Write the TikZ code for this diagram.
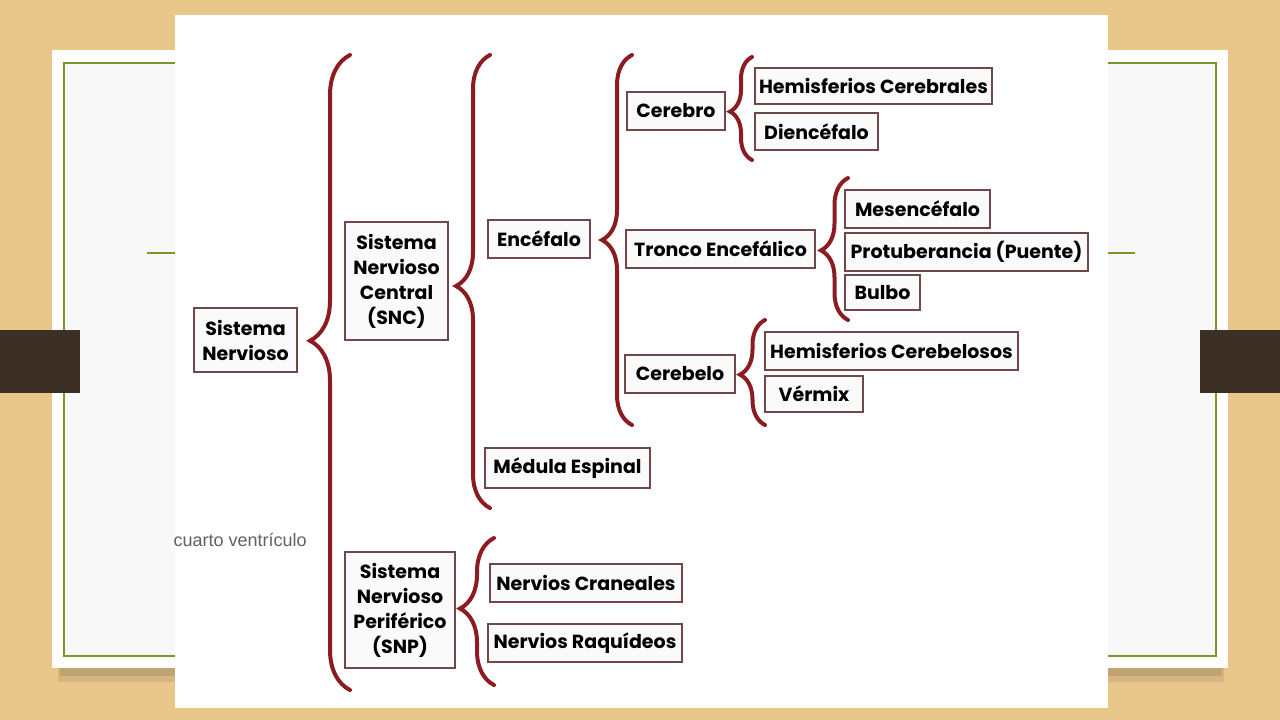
\documentclass[tikz,border=0pt]{standalone}
\usepackage{fontspec}
\newfontfamily\boxfont{Poppins}
\newfontfamily\slidefont{Liberation Sans}
\usetikzlibrary{decorations.pathreplacing}
\definecolor{wood}{RGB}{233,198,138}
\definecolor{card}{RGB}{248,248,248}
\definecolor{olive}{RGB}{122,150,42}
\definecolor{bar}{RGB}{60,48,38}
\definecolor{bracered}{RGB}{140,28,34}
\definecolor{boxline}{RGB}{112,72,72}
\begin{document}
\begin{tikzpicture}[x=1pt,y=-1pt,
  box/.style={draw=boxline,fill=gray!4,line width=1.3pt,align=center,inner sep=3pt,
    font=\boxfont\bfseries\fontsize{19}{25}\selectfont},
  brc/.style 2 args={draw=bracered,line width=4pt,line cap=round,decorate,
    decoration={brace,amplitude=#1,aspect=#2}}]
\useasboundingbox (0,0) rectangle (1280,720);
% slide behind the picture
\fill[wood] (0,0) rectangle (1280,720);
\fill[black,opacity=.08] (58,664) rectangle (1224,682);
\fill[black,opacity=.10] (60,664) rectangle (1222,676);
\fill[white] (52,50) rectangle (1228,668);
\fill[card] (64,63) rectangle (1216,656);
\draw[olive,line width=1.5pt] (64,63) rectangle (1216,656);
\draw[olive,line width=1.5pt] (147,253) -- (175,253) (1108,253) -- (1135,253);
\fill[bar] (0,330) rectangle (80,393);
\fill[bar] (1200,330) rectangle (1280,393);
\fill[white] (175,15) rectangle (1108,708);
\node[anchor=west,text=gray!75!black,font=\slidefont\fontsize{18}{20}\selectfont] (cv) at (170,540) {cuarto ventrículo};
% tree
\node[box,minimum width=103,minimum height=64] (sn) at (245.5,340) {Sistema\\Nervioso};
\node[box,minimum width=103,minimum height=118] (snc) at (396.5,281) {Sistema\\Nervioso\\Central\\(SNC)};
\node[box,minimum width=110,minimum height=116] (snp) at (400,610) {Sistema\\Nervioso\\Periférico\\(SNP)};
\node[box,minimum width=102,minimum height=38] (enc) at (539,239) {Encéfalo};
\node[box,minimum width=165,minimum height=40] (med) at (567.5,468) {Médula Espinal};
\node[box,minimum width=192,minimum height=38] (ncr) at (586,583) {Nervios Craneales};
\node[box,minimum width=194,minimum height=38] (nrq) at (585,643) {Nervios Raquídeos};
\node[box,minimum width=98,minimum height=38] (cer) at (676,111) {Cerebro};
\node[box,minimum width=189,minimum height=38] (tro) at (720.5,249) {Tronco Encefálico};
\node[box,minimum width=110,minimum height=38] (cbl) at (680,374) {Cerebelo};
\node[box,minimum width=237,minimum height=36] (hce) at (873.5,86) {Hemisferios Cerebrales};
\node[box,minimum width=123,minimum height=37] (die) at (816.5,131.5) {Diencéfalo};
\node[box,minimum width=145,minimum height=38] (mes) at (917.5,209) {Mesencéfalo};
\node[box,minimum width=243,minimum height=38] (pro) at (966.5,252) {Protuberancia (Puente)};
\node[box,minimum width=75,minimum height=35] (bul) at (882.5,292.5) {Bulbo};
\node[box,minimum width=253,minimum height=38] (hcb) at (891.5,351) {Hemisferios Cerebelosos};
\node[box,minimum width=98,minimum height=36] (ver) at (814,394) {Vérmix};
% braces
\draw[brc={40pt}{.55}] (350,690) -- (350,55);
\draw[brc={34pt}{.49}] (490,508) -- (490,55);
\draw[brc={34pt}{.52}] (494,685) -- (494,538);
\draw[brc={30pt}{.5}] (632,425) -- (632,55);
\draw[brc={22pt}{.47}] (752,160) -- (752,57);
\draw[brc={27pt}{.49}] (848,320) -- (848,178);
\draw[brc={25pt}{.48}] (765,425) -- (765,320);
\end{tikzpicture}
\end{document}
